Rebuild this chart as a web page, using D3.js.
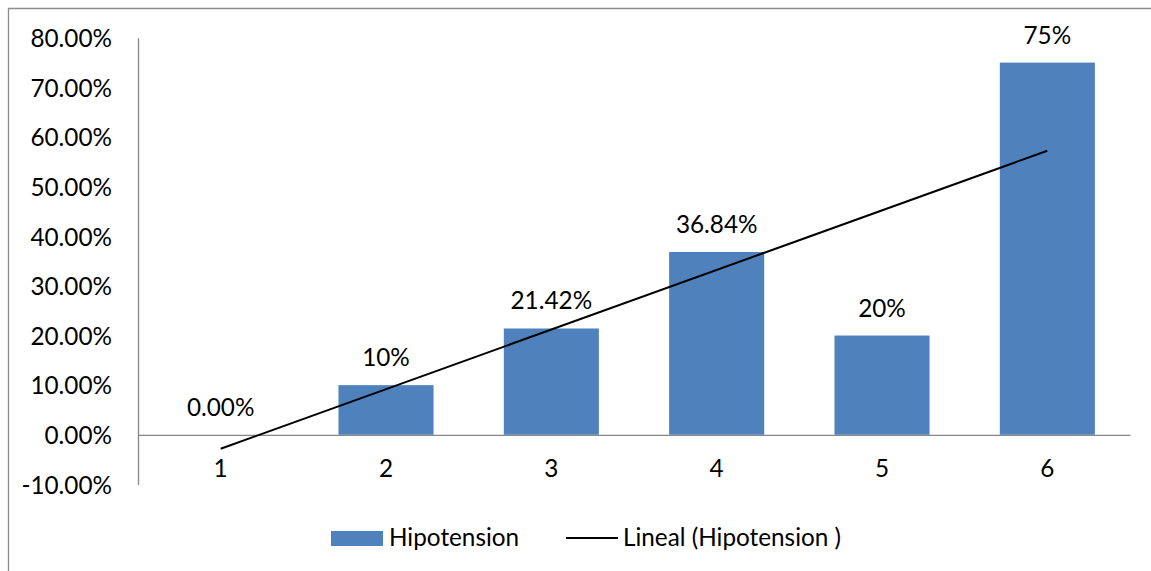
<!DOCTYPE html>
<html>
<head>
<meta charset="utf-8">
<script src="https://cdn.jsdelivr.net/npm/d3@7"></script>
<style>
  html, body { margin: 0; padding: 0; background: #fff; }
  svg { display: block; font-family: Lato, "Open Sans", sans-serif; }
</style>
</head>
<body>
<svg id="chart" width="1151" height="571"></svg>
<script>
// Hipotension share per group
const categories = ["1", "2", "3", "4", "5", "6"];
const values = [0, 10, 21.42, 36.84, 20, 75];
const valueLabels = ["0.00%", "10%", "21.42%", "36.84%", "20%", "75%"];
const yTicks = [-10, 0, 10, 20, 30, 40, 50, 60, 70, 80];
const seriesName = "Hipotension";
const trendName = "Lineal (Hipotension )";

const svg = d3.select("#chart");
const fontSize = 24.3;
const axisColor = "#878787";
const barColor = "#4F81BD";

// outer chart frame
svg.append("path")
  .attr("d", "M8.5,571 V8.5 H1151")
  .attr("fill", "none")
  .attr("stroke", "#8c8c8c")
  .attr("stroke-width", 1.3);

const plot = { left: 138, right: 1130, top: 37.8, bottom: 484.4 };

const x = d3.scaleBand().domain(categories).range([plot.left, plot.right]).paddingInner(0.425).paddingOuter(0.2125);
const y = d3.scaleLinear().domain([-10, 80]).range([plot.bottom, plot.top]);

// y axis labels (plain hyphen for negatives)
const yAxis = d3.axisLeft(y).tickValues(yTicks).tickSize(0).tickPadding(26)
  .tickFormat(d => d.toFixed(2) + "%");
const gy = svg.append("g").attr("transform", `translate(${plot.left},0)`).call(yAxis);
gy.select(".domain").attr("stroke", axisColor).attr("stroke-width", 1.3);
gy.selectAll("text").attr("font-size", fontSize).attr("fill", "#000")
  .attr("font-family", "Lato, sans-serif").attr("dy", "0.36em");

// bars
svg.append("g").selectAll("rect").data(values).join("rect")
  .attr("x", (d, i) => x(categories[i]))
  .attr("width", x.bandwidth())
  .attr("y", d => y(Math.max(0, d)))
  .attr("height", d => Math.abs(y(d) - y(0)))
  .attr("fill", barColor);

// category axis along the zero line
const xAxis = d3.axisBottom(x).tickSize(0).tickPadding(0);
const gx = svg.append("g").attr("transform", `translate(0,${y(0)})`).call(xAxis);
gx.select(".domain").attr("stroke", axisColor).attr("stroke-width", 1.3);
gx.selectAll("text").attr("font-size", fontSize).attr("fill", "#000")
  .attr("font-family", "Lato, sans-serif").attr("y", 42).attr("dy", 0);

// linear trend (least squares over category index)
const xs = values.map((d, i) => i + 1);
const mx = d3.mean(xs), my = d3.mean(values);
const slope = d3.sum(xs, (v, i) => (v - mx) * (values[i] - my)) / d3.sum(xs, v => (v - mx) ** 2);
const intercept = my - slope * mx;
const center = c => x(c) + x.bandwidth() / 2;
const trend = [1, categories.length].map(k => [center(categories[k - 1]), y(intercept + slope * k)]);
svg.append("path")
  .attr("d", d3.line()(trend))
  .attr("fill", "none")
  .attr("stroke", "#000")
  .attr("stroke-width", 2);

// value labels above bars
svg.append("g").selectAll("text").data(values).join("text")
  .attr("x", (d, i) => center(categories[i]))
  .attr("y", d => y(Math.max(0, d)) - 19)
  .attr("text-anchor", "middle")
  .attr("font-size", fontSize)
  .text((d, i) => valueLabels[i]);

// legend
const lg = svg.append("g");
lg.append("rect").attr("x", 331).attr("y", 531).attr("width", 52).attr("height", 15).attr("fill", barColor);
lg.append("text").attr("x", 389).attr("y", 546).attr("font-size", fontSize).text(seriesName);
lg.append("line").attr("x1", 566).attr("x2", 618).attr("y1", 538).attr("y2", 538)
  .attr("stroke", "#000").attr("stroke-width", 2);
lg.append("text").attr("x", 623).attr("y", 546).attr("font-size", fontSize).text(trendName);
</script>
</body>
</html>
